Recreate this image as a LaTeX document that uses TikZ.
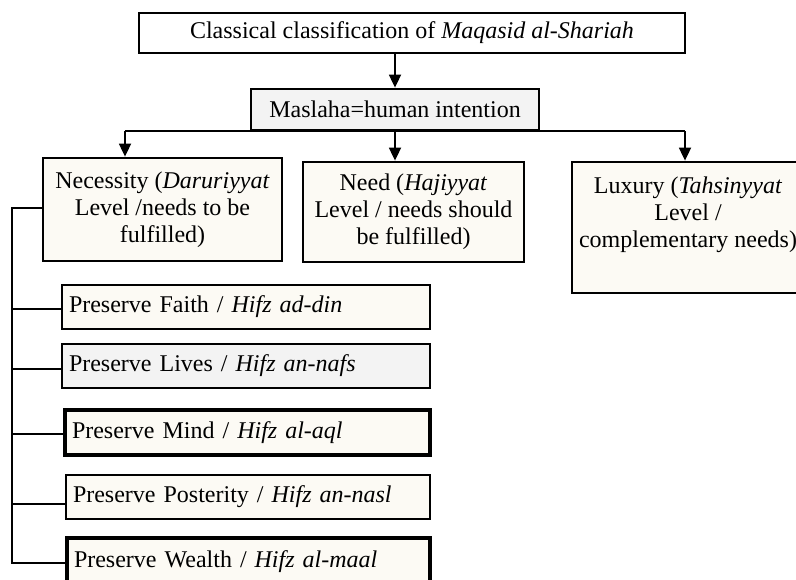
\documentclass[tikz,border=0pt]{standalone}
\usepackage{fontspec}
\setmainfont{Liberation Serif}
\usetikzlibrary{arrows.meta}
\definecolor{cream}{RGB}{252,250,244}
\definecolor{lgray}{RGB}{243,243,243}
\begin{document}
\begin{tikzpicture}[x=1pt,y=-1pt,
  box/.style={draw=black, line width=2.8pt, rectangle, inner sep=0pt,
    font=\fontsize{24}{27}\selectfont, align=center},
  subbox/.style={box, inner xsep=7pt, align=left},
  conn/.style={line width=1.8pt},
  arr/.style={conn, -{Triangle[length=13pt,width=12pt]}},
  txt/.style={font=\fontsize{24}{27}\selectfont, align=center, inner sep=0pt}]
\useasboundingbox (0,0) rectangle (796,579);
\clip (0,0) rectangle (796,579);
\fill[white] (0,0) rectangle (796,579);

% top levels
\node[box, minimum width=546pt, minimum height=40pt] (top) at (412,33)
  {Classical classification of \textit{Maqasid al-Shariah}};
\node[box, fill=lgray, minimum width=288pt, minimum height=41pt] (masl) at (395,109.5)
  {Maslaha=human intention};

% bus and arrows
\coordinate (bL) at (125,131);
\coordinate (bR) at (685,131);
\draw[conn] (bL) -- (bR);

\node[box, fill=cream, minimum width=239pt, minimum height=103pt] (nec) at (162.5,209.5)
  {Necessity (\textit{Daruriyyat}\\Level /needs to be\\fulfilled)};
\node[box, fill=cream, minimum width=221pt, minimum height=100pt] (need) at (413.5,212)
  {Need (\textit{Hajiyyat}\\Level / needs should\\be fulfilled)};
\node[box, fill=cream, minimum width=238pt, minimum height=131pt] (lux) at (691,227.5) {};
\node[txt] (luxt) at (688,215)
  {Luxury (\textit{Tahsinyyat}\\Level /\\complementary needs)};

\draw[arr] (top.south -| masl.north) -- (masl.north);
\draw[arr] (bL) -- (bL |- nec.north);
\draw[arr] (masl.south) -- (masl.south |- need.north);
\draw[arr] (bR) -- (bR |- lux.north);

% sub boxes
\node[subbox, fill=cream, minimum width=368pt, text width=354pt, minimum height=44pt] (faith) at (246,307)
  {Preserve Faith / \textit{Hifz ad-din}};
\node[subbox, fill=lgray, minimum width=368pt, text width=354pt, minimum height=44pt] (lives) at (246,366)
  {Preserve Lives / \textit{Hifz an-nafs}};
\node[subbox, fill=cream, line width=3.4pt, minimum width=365pt, text width=351pt, minimum height=45pt] (mind) at (247.5,432.5)
  {Preserve Mind / \textit{Hifz al-aql}};
\node[subbox, fill=cream, minimum width=364pt, text width=350pt, minimum height=44pt] (post) at (248,497)
  {Preserve Posterity / \textit{Hifz an-nasl}};
\node[subbox, fill=cream, line width=3.4pt, minimum width=363pt, text width=349pt, minimum height=48pt] (wealth) at (248.5,562)
  {Preserve Wealth / \textit{Hifz al-maal}};

% left trunk
\coordinate (tT) at (12,208);
\coordinate (tB) at (12,563);
\draw[conn] (nec.west |- tT) -- (tT) -- (tB) -- (wealth.west |- tB);
\path ([yshift=-2pt]faith.west) coordinate (fw);
\path ([yshift=-3pt]lives.west) coordinate (lw);
\path ([yshift=-1.5pt]mind.west) coordinate (mw);
\path ([yshift=-7pt]post.west) coordinate (pw);
\draw[conn] (fw) -- (fw -| tT);
\draw[conn] (lw) -- (lw -| tT);
\draw[conn] (mw) -- (mw -| tT);
\draw[conn] (pw) -- (pw -| tT);
\end{tikzpicture}
\end{document}
